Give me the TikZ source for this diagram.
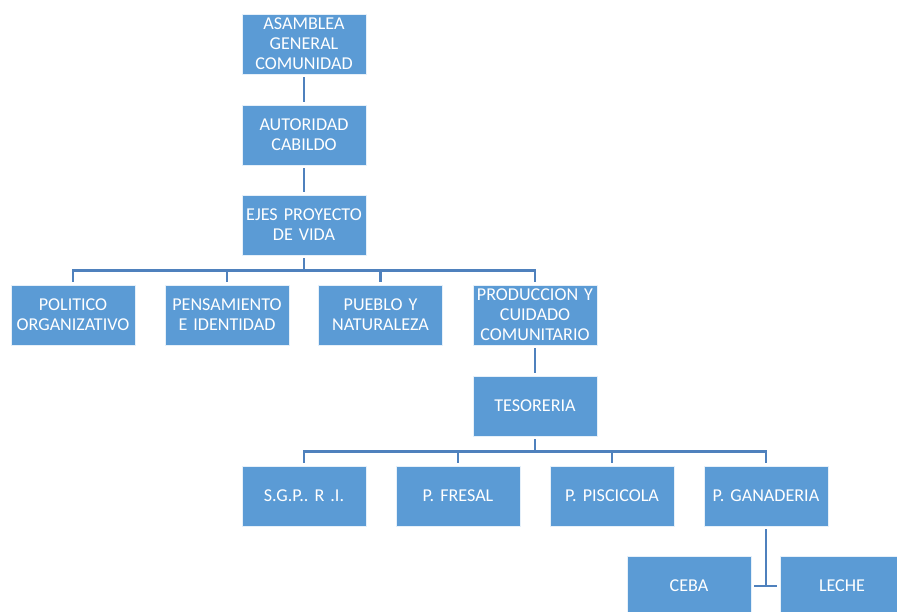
\documentclass[tikz,border=0pt]{standalone}
\usepackage{fontspec}
\setmainfont{Carlito}
\definecolor{boxfill}{HTML}{5B9BD5}
\definecolor{linecol}{HTML}{4F81BD}
\begin{document}
\frenchspacing
\begin{tikzpicture}[x=1pt,y=1pt,
  orgbox/.style={rectangle, fill=boxfill, draw=white!85!boxfill, line width=0.8pt,
    minimum width=124pt, minimum height=60pt, inner sep=1pt, text=white,
    align=center, font=\fontsize{18.1}{20}\selectfont, text width=122pt},
  conn/.style={draw=linecol, line width=2.2pt, shorten >=3pt, shorten <=3pt}]
\clip (0,0) rectangle (897,-611);
\fill[white] (0,0) rectangle (897,-611);
% nodes
\node[orgbox] (asam) at (304,-44) {ASAMBLEA\\GENERAL\\COMUNIDAD};
\node[orgbox] (auto) at (304,-135) {AUTORIDAD\\CABILDO};
\node[orgbox] (ejes) at (304,-225) {EJES PROYECTO\\DE VIDA};
\node[orgbox] (poli) at (73,-315) {POLITICO\\ORGANIZATIVO};
\node[orgbox] (pens) at (227,-315) {PENSAMIENTO\\E IDENTIDAD};
\node[orgbox] (pueb) at (380.5,-315) {PUEBLO Y\\NATURALEZA};
\node[orgbox] (prod) at (535,-315) {PRODUCCION Y\\CUIDADO\\COMUNITARIO};
\node[orgbox] (teso) at (535,-406) {TESORERIA};
\node[orgbox] (sgp) at (304,-496) {S.G.P.. R .I.};
\node[orgbox] (fres) at (458,-496) {P. FRESAL};
\node[orgbox] (pisc) at (612,-496) {P. PISCICOLA};
\node[orgbox] (gana) at (766,-496) {P. GANADERIA};
\node[orgbox] (ceba) at (689,-586) {CEBA};
\node[orgbox] (lech) at (842,-586) {LECHE};
% connectors
\draw[conn] (asam) -- (auto);
\draw[conn] (auto) -- (ejes);
\foreach \c in {poli,pens,pueb,prod}
  \draw[conn] (ejes.south) -- ++(0,-15) -| (\c.north);
\draw[conn] (prod) -- (teso);
\foreach \c in {sgp,fres,pisc,gana}
  \draw[conn] (teso.south) -- ++(0,-15) -| (\c.north);
\draw[conn, shorten >=0pt] (gana.south) -- (gana.south |- ceba.east);
\draw[conn] (ceba.east) -- (lech.west);
\end{tikzpicture}
\end{document}
